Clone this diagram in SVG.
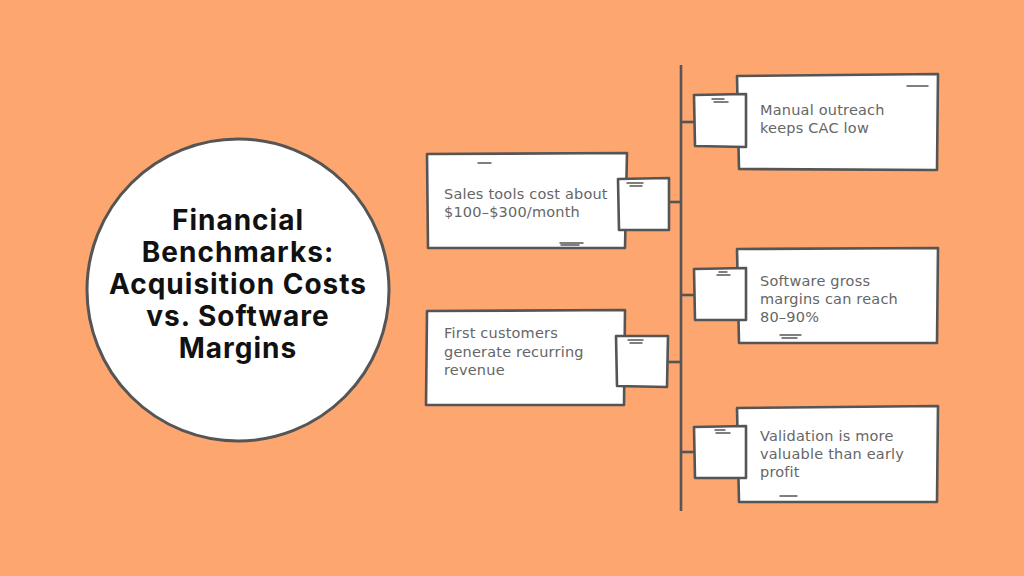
<svg xmlns="http://www.w3.org/2000/svg" width="1024" height="576" viewBox="0 0 1024 576">
<style>
.bx{fill:#fff;stroke:#555;stroke-width:2.6;stroke-linejoin:round}
.dec{fill:none;stroke:#555;stroke-width:1.4;stroke-linecap:round}
.ln{fill:none;stroke:#555;stroke-width:2.6}
.t{font-family:"DejaVu Sans","Noto Sans",sans-serif;font-size:14.5px;letter-spacing:0.2px;fill:#666}
.title{font-family:Inter,"Noto Sans",sans-serif;font-weight:700;font-size:28px;letter-spacing:1px;fill:#111;text-anchor:middle}
</style>
<rect width="1024" height="576" fill="#FDA670"/>
<g id="connectors">
<path class="ln" d="M681,65 L681,511"/>
<path class="ln" d="M669,202 L681,202"/>
<path class="ln" d="M668,362 L681,362"/>
<path class="ln" d="M681,122 L694,122"/>
<path class="ln" d="M681,295 L694,295"/>
<path class="ln" d="M681,452 L694,452"/>
</g>
<g id="center">
<circle cx="238" cy="290" r="151" fill="#fff" stroke="#555" stroke-width="3"/>
<text class="title" x="238" y="230">Financial</text>
<text class="title" x="238" y="262">Benchmarks:</text>
<text class="title" x="238" y="294">Acquisition Costs</text>
<text class="title" x="238" y="326">vs. Software</text>
<text class="title" x="238" y="358">Margins</text>
</g>
<g id="node-sales">
<path class="bx" d="M427,154 L627,153 L625,248 L428,248 Z"/>
<path class="dec" d="M478,163 L491,163 M560,243 L583,243 M561,245 L579,245"/>
<path class="bx" d="M618,179 L669,178 L669,230 L619,230 Z"/>
<path class="dec" d="M627,183 L643,183 M630,186 L642,186"/>
<text class="t" x="444" y="199">Sales tools cost about</text>
<text class="t" x="444" y="217">$100–$300/month</text>
</g>
<g id="node-first">
<path class="bx" d="M427,311 L625,310 L624,405 L426,405 Z"/>
<path class="bx" d="M616,336 L668,336 L667,387 L617,386 Z"/>
<path class="dec" d="M628,340 L643,340 M630,343 L642,343"/>
<text class="t" x="444" y="338">First customers</text>
<text class="t" x="444" y="357">generate recurring</text>
<text class="t" x="444" y="375">revenue</text>
</g>
<g id="node-manual">
<path class="bx" d="M737,76 L938,74 L937,170 L739,169 Z"/>
<path class="dec" d="M907,86 L928,86"/>
<path class="bx" d="M694,95 L746,94 L746,147 L695,146 Z"/>
<path class="dec" d="M712,99 L724,99 M714,102 L728,102"/>
<text class="t" x="760" y="115">Manual outreach</text>
<text class="t" x="760" y="133">keeps CAC low</text>
</g>
<g id="node-software">
<path class="bx" d="M737,249 L938,248 L937,343 L739,343 Z"/>
<path class="dec" d="M780,335 L801,335 M782,338 L797,338"/>
<path class="bx" d="M694,269 L746,268 L746,320 L695,320 Z"/>
<path class="dec" d="M719,272 L727,272 M717,275 L730,275"/>
<text class="t" x="760" y="286">Software gross</text>
<text class="t" x="760" y="304">margins can reach</text>
<text class="t" x="760" y="322">80–90%</text>
</g>
<g id="node-validation">
<path class="bx" d="M737,408 L938,406 L937,502 L739,502 Z"/>
<path class="dec" d="M780,496 L797,496"/>
<path class="bx" d="M694,427 L746,426 L746,478 L695,478 Z"/>
<path class="dec" d="M715,430 L725,430 M716,433 L730,433"/>
<text class="t" x="760" y="441">Validation is more</text>
<text class="t" x="760" y="459">valuable than early</text>
<text class="t" x="760" y="477">profit</text>
</g>
</svg>
